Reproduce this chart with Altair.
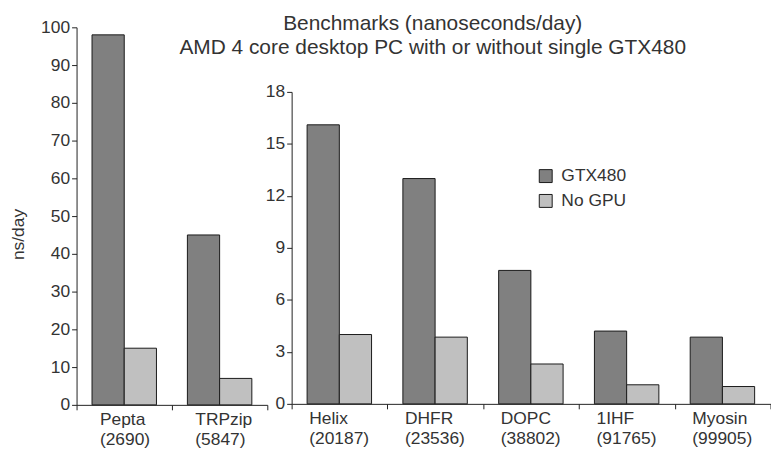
import altair as alt
import pandas as pd

# ---- data ----
series = ["GTX480", "No GPU"]
colors = ["#808080", "#c0c0c0"]

left_cats = ["Pepta\n(2690)", "TRPzip\n(5847)"]
left_gtx = [98, 45]
left_nogpu = [15, 7]

right_cats = ["Helix\n(20187)", "DHFR\n(23536)", "DOPC\n(38802)", "1IHF\n(91765)", "Myosin\n(99905)"]
right_gtx = [16.1, 13.0, 7.7, 4.2, 3.85]
right_nogpu = [4.0, 3.85, 2.3, 1.1, 1.0]

left_ticks = [0, 10, 20, 30, 40, 50, 60, 70, 80, 90, 100]
right_ticks = [0, 3, 6, 9, 12, 15, 18]

title_lines = ["Benchmarks (nanoseconds/day)",
               "AMD 4 core desktop PC with or without single GTX480"]
y_title = "ns/day"

FONT = "Liberation Sans"
FS = 17.5
TXT = "#333333"
LINE = "#222222"


def long_table(cats, gtx, nogpu):
    rows = []
    for c, a, b in zip(cats, gtx, nogpu):
        rows.append({"cat": c, "series": series[0], "value": a})
        rows.append({"cat": c, "series": series[1], "value": b})
    return pd.DataFrame(rows)


left_df = long_table(left_cats, left_gtx, left_nogpu)
right_df = long_table(right_cats, right_gtx, right_nogpu)


def x_enc(cats, label_offset):
    return alt.X(
        "cat:N", sort=cats,
        scale=alt.Scale(paddingInner=0, paddingOuter=0),
        axis=alt.Axis(title=None, labelAngle=0,
                      labelExpr="split(datum.label, '\\n')",
                      tickBand="extent", labelAlign="left",
                      labelOffset=label_offset, labelBaseline="top",
                      labelLineHeight=20, labelPadding=1, tickSize=5),
    )


xoff = alt.XOffset("series:N", sort=series,
                   scale=alt.Scale(paddingInner=0, paddingOuter=0.48))

left = alt.Chart(left_df).mark_bar(stroke="#1a1a1a", strokeWidth=1).encode(
    x=x_enc(left_cats, -25),
    xOffset=xoff,
    y=alt.Y("value:Q", scale=alt.Scale(domain=[0, 100], nice=False),
            axis=alt.Axis(values=left_ticks, title=y_title, tickSize=5,
                          labelPadding=2, titleX=-58, titleY=208,
                          titleAlign="center", titleBaseline="middle")),
    color=alt.Color("series:N", scale=alt.Scale(domain=series, range=colors),
                    legend=None),
).properties(width=192, height=380)

right = alt.Chart(right_df).mark_bar(stroke="#1a1a1a", strokeWidth=1).encode(
    x=x_enc(right_cats, -31),
    xOffset=xoff,
    y=alt.Y("value:Q", scale=alt.Scale(domain=[0, 18], nice=False),
            axis=alt.Axis(values=right_ticks, title=None, tickSize=5,
                          labelPadding=2)),
    color=alt.Color("series:N", scale=alt.Scale(domain=series, range=colors),
                    legend=alt.Legend(title=None, orient="none", legendX=247,
                                      legendY=76, symbolType="square",
                                      symbolSize=169,
                                      symbolStrokeColor="#1a1a1a",
                                      symbolStrokeWidth=1,
                                      labelFont=FONT, labelFontSize=FS,
                                      labelColor=TXT, rowPadding=6,
                                      labelOffset=7, padding=0)),
).properties(
    width=482, height=314,
    title=alt.TitleParams(text=title_lines, anchor="middle", frame="group",
                          dx=-99, fontSize=21, font=FONT, color=TXT,
                          fontWeight="normal", lineHeight=24, offset=25),
)

spacer = alt.Chart(pd.DataFrame({"v": [0]})).mark_point(opacity=0).encode(
    x=alt.X("v:Q", axis=None), y=alt.Y("v:Q", axis=None)
).properties(width=482, height=65)

right_col = alt.vconcat(spacer, right, spacing=0, bounds="flush").resolve_scale(
    color="independent")

chart = alt.hconcat(left, right_col, spacing=24.5, bounds="flush").resolve_scale(
    color="independent"
).properties(
    padding={"left": 2, "top": 4, "right": 0, "bottom": 0}
).configure_view(stroke=None).configure_axis(
    grid=False, labelFont=FONT, labelFontSize=FS, labelColor=TXT,
    titleFont=FONT, titleFontSize=FS, titleColor=TXT, titleFontWeight="normal",
    domainColor=LINE, tickColor=LINE,
)

chart.save("out.html", embed_options={"renderer": "svg", "actions": False})
